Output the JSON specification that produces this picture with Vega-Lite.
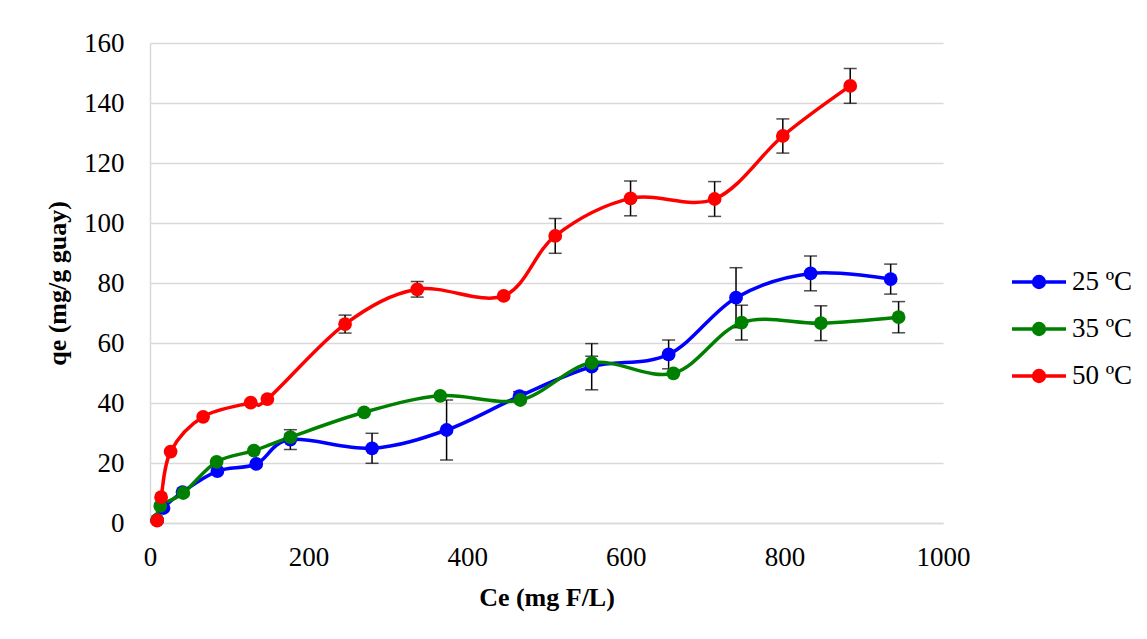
{
  "$schema": "https://vega.github.io/schema/vega-lite/v6.json",
  "width": 793,
  "height": 480,
  "autosize": {"type": "none"},
  "padding": {"left": 150, "top": 43, "right": 204, "bottom": 116},
  "background": "white",
  "data": {
    "values": [
      {"series": "25 ºC", "ce": 9, "qe": 1, "err": 0},
      {"series": "25 ºC", "ce": 17, "qe": 5, "err": 0},
      {"series": "25 ºC", "ce": 41, "qe": 10.3, "err": 0},
      {"series": "25 ºC", "ce": 85, "qe": 17.3, "err": 0},
      {"series": "25 ºC", "ce": 134, "qe": 19.7, "err": 0},
      {"series": "25 ºC", "ce": 177, "qe": 27.8, "err": 3.3},
      {"series": "25 ºC", "ce": 280, "qe": 24.9, "err": 5},
      {"series": "25 ºC", "ce": 374, "qe": 31, "err": 10},
      {"series": "25 ºC", "ce": 466, "qe": 42.3, "err": 1.5},
      {"series": "25 ºC", "ce": 557, "qe": 52.1, "err": 7.7},
      {"series": "25 ºC", "ce": 654, "qe": 56.2, "err": 4.8},
      {"series": "25 ºC", "ce": 739, "qe": 75.1, "err": 10},
      {"series": "25 ºC", "ce": 833, "qe": 83.2, "err": 5.8},
      {"series": "25 ºC", "ce": 934, "qe": 81.3, "err": 5},
      {"series": "35 ºC", "ce": 9, "qe": 1, "err": 0},
      {"series": "35 ºC", "ce": 13, "qe": 5.7, "err": 0},
      {"series": "35 ºC", "ce": 42, "qe": 10, "err": 0},
      {"series": "35 ºC", "ce": 84, "qe": 20.4, "err": 0},
      {"series": "35 ºC", "ce": 131, "qe": 24.1, "err": 0},
      {"series": "35 ºC", "ce": 177, "qe": 28.6, "err": 1},
      {"series": "35 ºC", "ce": 270, "qe": 36.9, "err": 0},
      {"series": "35 ºC", "ce": 366, "qe": 42.4, "err": 0},
      {"series": "35 ºC", "ce": 467, "qe": 41, "err": 0},
      {"series": "35 ºC", "ce": 557, "qe": 53.4, "err": 2.2},
      {"series": "35 ºC", "ce": 660, "qe": 49.9, "err": 0},
      {"series": "35 ºC", "ce": 746, "qe": 66.8, "err": 5.8},
      {"series": "35 ºC", "ce": 846, "qe": 66.6, "err": 5.8},
      {"series": "35 ºC", "ce": 944, "qe": 68.6, "err": 5.2},
      {"series": "50 ºC", "ce": 9, "qe": 0.8, "err": 0},
      {"series": "50 ºC", "ce": 14, "qe": 8.6, "err": 0},
      {"series": "50 ºC", "ce": 26, "qe": 23.8, "err": 0},
      {"series": "50 ºC", "ce": 67, "qe": 35.4, "err": 0},
      {"series": "50 ºC", "ce": 127, "qe": 40.1, "err": 0},
      {"series": "50 ºC", "ce": 148, "qe": 41.3, "err": 0},
      {"series": "50 ºC", "ce": 246, "qe": 66.3, "err": 3},
      {"series": "50 ºC", "ce": 337, "qe": 77.9, "err": 2.6},
      {"series": "50 ºC", "ce": 446, "qe": 75.7, "err": 0},
      {"series": "50 ºC", "ce": 511, "qe": 95.7, "err": 5.8},
      {"series": "50 ºC", "ce": 606, "qe": 108.2, "err": 5.8},
      {"series": "50 ºC", "ce": 712, "qe": 108, "err": 5.8},
      {"series": "50 ºC", "ce": 798, "qe": 129, "err": 5.7},
      {"series": "50 ºC", "ce": 883, "qe": 145.7, "err": 5.8}
    ]
  },
  "encoding": {
    "x": {
      "field": "ce",
      "type": "quantitative",
      "scale": {"domain": [0, 1000], "nice": false, "zero": false},
      "axis": {
        "title": "Ce (mg F/L)",
        "values": [0, 200, 400, 600, 800, 1000],
        "format": "d",
        "labelFlush": false,
        "grid": false,
        "ticks": false,
        "domainColor": "#D9D9D9",
        "domainWidth": 1.5,
        "labelPadding": 21,
        "titlePadding": 14
      }
    },
    "y": {
      "field": "qe",
      "type": "quantitative",
      "scale": {"domain": [0, 160], "nice": false},
      "axis": {
        "title": "qe (mg/g guay)",
        "values": [0, 20, 40, 60, 80, 100, 120, 140, 160],
        "format": "d",
        "grid": true,
        "gridColor": "#D9D9D9",
        "gridWidth": 1.5,
        "ticks": false,
        "domainColor": "#D9D9D9",
        "domainWidth": 1.5,
        "labelPadding": 26,
        "titlePadding": 13
      }
    }
  },
  "layer": [
    {
      "transform": [{"filter": "datum.err > 0"}],
      "mark": {
        "type": "errorbar",
        "color": "black",
        "thickness": 1.5,
        "ticks": {"size": 13, "thickness": 1.5, "color": "black"}
      },
      "encoding": {
        "y": {"field": "qe", "type": "quantitative"},
        "yError": {"field": "err"},
        "detail": {"field": "series"}
      }
    },
    {
      "mark": {"type": "line", "interpolate": "cardinal", "strokeWidth": 3.5},
      "encoding": {
        "color": {
          "field": "series",
          "type": "nominal",
          "scale": {"domain": ["25 ºC", "35 ºC", "50 ºC"], "range": ["#0000FF", "#008000", "#FF0000"]},
          "legend": {
            "title": null,
            "orient": "none",
            "legendX": 867,
            "legendY": 217,
            "padding": 0,
            "symbolType": "M-1.35,0L1.35,0M-0.27,0A0.27,0.27,0,1,1,0.27,0A0.27,0.27,0,1,1,-0.27,0Z",
            "symbolSize": 1600,
            "symbolStrokeWidth": 3.5,
            "labelOffset": 11,
            "rowPadding": 12,
            "labelFont": "Liberation Serif",
            "labelFontSize": 27,
            "labelColor": "black",
            "encode": {
              "symbols": {
                "update": {
                  "fill": {"scale": "color", "field": "value"},
                  "stroke": {"scale": "color", "field": "value"},
                  "strokeWidth": {"value": 3.5},
                  "opacity": {"value": 1}
                }
              }
            }
          }
        }
      }
    },
    {
      "mark": {"type": "point", "filled": true, "shape": "circle", "size": 190, "opacity": 1},
      "encoding": {
        "color": {"field": "series", "type": "nominal"}
      }
    }
  ],
  "config": {
    "view": {"stroke": null},
    "legend": {"labelFont": "Liberation Serif", "labelFontSize": 27, "labelColor": "black"},
    "axis": {
      "labelFont": "Liberation Serif",
      "labelFontSize": 27,
      "labelColor": "black",
      "titleFont": "Liberation Serif",
      "titleFontSize": 26,
      "titleFontWeight": "bold",
      "titleColor": "black"
    }
  }
}
